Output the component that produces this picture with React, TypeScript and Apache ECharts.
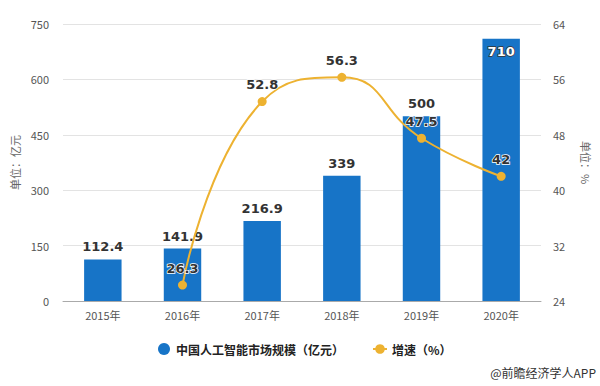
import React, { useEffect, useRef } from "react";
import * as echarts from "echarts";

const categories = ["2015年", "2016年", "2017年", "2018年", "2019年", "2020年"];
const marketSize = [112.4, 141.9, 216.9, 339, 500, 710];
const growth: (number | string)[] = ["-", 26.3, 52.8, 56.3, 47.5, 42];
const leftTicks = { min: 0, max: 750, interval: 150 };
const rightTicks = { min: 24, max: 64, interval: 8 };

export default function App() {
  const ref = useRef<HTMLDivElement>(null);
  useEffect(() => {
    if (!ref.current) return;
    const chart = echarts.init(ref.current, undefined, { renderer: "svg" });
    const numFont = "DejaVu Sans, sans-serif";
    const cjk = "'Noto Sans CJK SC', sans-serif";
    chart.setOption({
      animation: false,
      backgroundColor: "#fff",
      grid: { left: 63, right: 55, top: 24, bottom: 85 },
      legend: {
        bottom: 26,
        left: 153,
        itemGap: 28,
        itemWidth: 14,
        itemHeight: 12,
        textStyle: { color: "#222", fontSize: 12, fontWeight: "bold", fontFamily: cjk },
        data: [
          { name: "中国人工智能市场规模（亿元）", icon: "circle" },
          { name: "增速（%）" },
        ],
      },
      graphic: [
        {
          type: "text",
          right: 4,
          top: 366,
          style: { text: "@前瞻经济学人APP", fill: "#333", fontSize: 12, fontFamily: cjk },
        },
      ],
      xAxis: {
        type: "category",
        data: categories,
        axisLine: { lineStyle: { color: "#aaa" } },
        axisTick: { alignWithLabel: true, length: 4, lineStyle: { color: "#aaa" } },
        axisLabel: { color: "#555", fontSize: 11, fontFamily: cjk, margin: 8 },
      },
      yAxis: [
        {
          type: "value",
          ...leftTicks,
          name: "单位：亿元",
          nameLocation: "middle",
          nameGap: 43,
          nameMoveOverlap: false,
          nameTextStyle: { color: "#666", fontSize: 11, fontFamily: cjk },
          axisLine: { show: false },
          axisTick: { show: false },
          axisLabel: { color: "#555", fontSize: 11, fontFamily: cjk, margin: 14 },
          splitLine: { lineStyle: { color: "#e3e3e3" } },
        },
        {
          type: "value",
          ...rightTicks,
          name: "单位：%",
          nameLocation: "middle",
          nameGap: 40,
          nameMoveOverlap: false,
          nameRotate: -90,
          nameTextStyle: { color: "#666", fontSize: 11, fontFamily: cjk },
          axisLine: { show: false },
          axisTick: { show: false },
          axisLabel: { color: "#555", fontSize: 11, fontFamily: cjk, margin: 12 },
          splitLine: { show: false },
        },
      ],
      series: [
        {
          name: "中国人工智能市场规模（亿元）",
          type: "bar",
          barWidth: "47%",
          itemStyle: { color: "#1774C7" },
          data: marketSize.map((v, i) =>
            i === marketSize.length - 1
              ? { value: v, label: { position: "insideTop", color: "#fff", textBorderColor: "#333", textBorderWidth: 1.5, distance: 6 } }
              : v
          ),
          label: {
            show: true,
            position: "top",
            distance: 6,
            color: "#333",
            fontSize: 13,
            fontFamily: numFont,
            fontWeight: "bold",
          },
        },
        {
          name: "增速（%）",
          type: "line",
          yAxisIndex: 1,
          smooth: true,
          symbol: "circle",
          symbolSize: 9,
          lineStyle: { color: "#EDB231", width: 2 },
          itemStyle: { color: "#EDB231" },
          data: growth,
          label: {
            show: true,
            position: "top",
            distance: 6,
            color: "#333",
            fontSize: 13,
            fontFamily: numFont,
            fontWeight: "bold",
            textBorderColor: "#fff",
            textBorderWidth: 1.5,
          },
        },
      ],
    });
    return () => chart.dispose();
  }, []);
  return <div ref={ref} style={{ width: 600, height: 386, position: "absolute", left: 0, top: 0 }} />;
}
